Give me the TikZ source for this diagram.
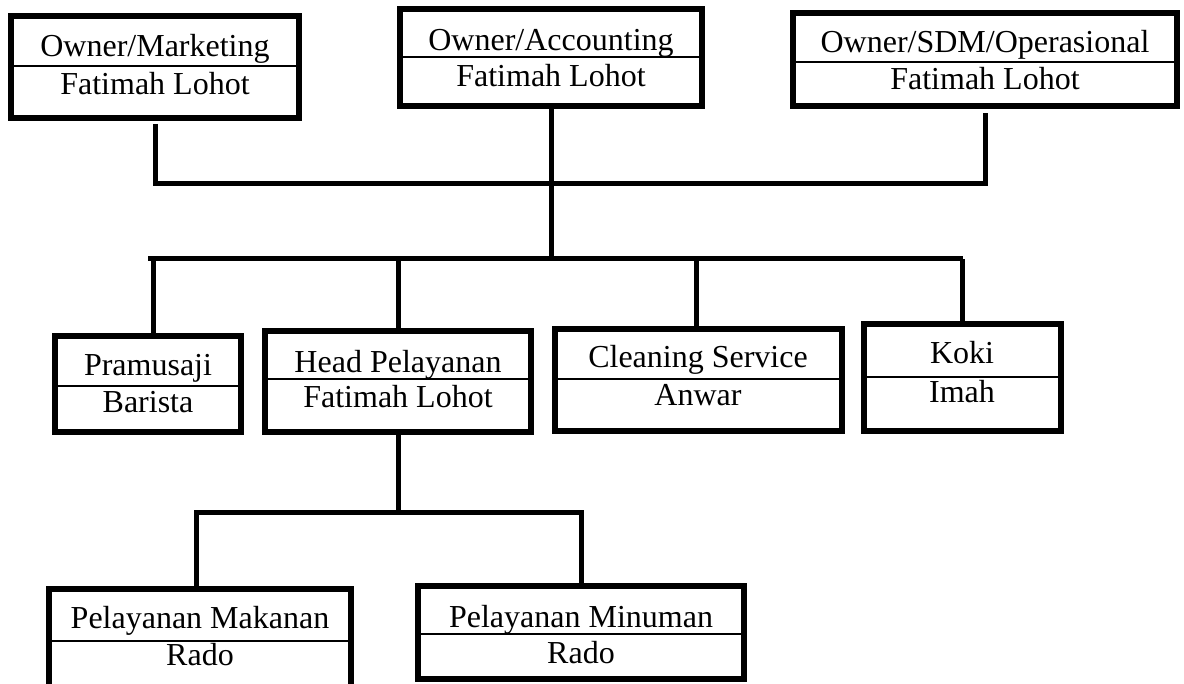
\documentclass[tikz,border=0pt]{standalone}
\usepackage{fontspec}
\setmainfont{Liberation Serif}
\usetikzlibrary{fit}

\begin{document}
\begin{tikzpicture}[
  x=0.5pt, y=-0.5pt,
  box/.style={draw, line width=3pt, inner sep=0pt},
  txt/.style={anchor=base, inner sep=0pt, font=\fontsize{16}{18}\selectfont},
  divider/.style={line width=0.75pt},
  conn/.style={line width=2.5pt}
]
\clip (0,0) rectangle (1184,684);
% top row
\node[box, fit={(11,16) (299,118)}] (mkt) {};
\node[txt] (mkt-role) at (155,57) {Owner/Marketing};
\node[txt] (mkt-name) at (155,95) {Fatimah Lohot};
\draw[divider] (mkt.west |- 0,66) -- (mkt.east |- 0,66);

\node[box, fit={(400,9) (702,106)}] (acc) {};
\node[txt] (acc-role) at (551,51) {Owner/Accounting};
\node[txt] (acc-name) at (551,87) {Fatimah Lohot};
\draw[divider] (acc.west |- 0,57) -- (acc.east |- 0,57);

\node[box, fit={(793,13) (1177,106)}] (sdm) {};
\node[txt] (sdm-role) at (985,53) {Owner/SDM/Operasional};
\node[txt] (sdm-name) at (985,90) {Fatimah Lohot};
\draw[divider] (sdm.west |- 0,62) -- (sdm.east |- 0,62);

% second row
\node[box, fit={(55,336) (241,432)}] (pram) {};
\node[txt] (pram-role) at (148,376) {Pramusaji};
\node[txt] (pram-name) at (148,413) {Barista};
\draw[divider] (pram.west |- 0,386) -- (pram.east |- 0,386);

\node[box, fit={(265,331) (531,432)}] (head) {};
\node[txt] (head-role) at (398,372) {Head Pelayanan};
\node[txt] (head-name) at (398,408) {Fatimah Lohot};
\draw[divider] (head.west |- 0,379) -- (head.east |- 0,379);

\node[box, fit={(555,329) (842,431)}] (clean) {};
\node[txt] (clean-role) at (698,368) {Cleaning Service};
\node[txt] (clean-name) at (698,406) {Anwar};
\draw[divider] (clean.west |- 0,379) -- (clean.east |- 0,379);

\node[box, fit={(864,324) (1061,431)}] (koki) {};
\node[txt] (koki-role) at (962,364) {Koki};
\node[txt] (koki-name) at (962,402) {Imah};
\draw[divider] (koki.west |- 0,377) -- (koki.east |- 0,377);

% third row
\node[box, fit={(49,589) (351,700)}] (mkn) {};
\node[txt] (mkn-role) at (200,628) {Pelayanan Makanan};
\node[txt] (mkn-name) at (200,665) {Rado};
\draw[divider] (mkn.west |- 0,641) -- (mkn.east |- 0,641);

\node[box, fit={(418,586) (744,679)}] (mnm) {};
\node[txt] (mnm-role) at (581,627) {Pelayanan Minuman};
\node[txt] (mnm-name) at (581,663) {Rado};
\draw[divider] (mnm.west |- 0,634) -- (mnm.east |- 0,634);

% connectors
\coordinate (busA) at (0,184);
\coordinate (busB) at (0,259);
\coordinate (busC) at (0,512);
\draw[conn, shorten <=1.5pt, shorten >=2pt] (mkt.south) |- (busA -| sdm.south) -- (sdm.south);
\draw[conn] (acc.south) -- (acc.south |- busB);
\draw[conn] (pram.north |- busB) -- (koki.north |- busB);
\draw[conn] ([xshift=2.5pt]pram.north) -- ([xshift=2.5pt]pram.north |- busB);
\draw[conn] (head.north) -- (head.north |- busB);
\draw[conn] ([xshift=-1pt]clean.north) -- ([xshift=-1pt]clean.north |- busB);
\draw[conn] (koki.north) -- (koki.north |- busB);
\draw[conn] (head.south) -- (head.south |- busC);
\draw[conn] ([xshift=-2pt]mkn.north) |- (busC -| mnm.north) -- (mnm.north);
\end{tikzpicture}
\end{document}
